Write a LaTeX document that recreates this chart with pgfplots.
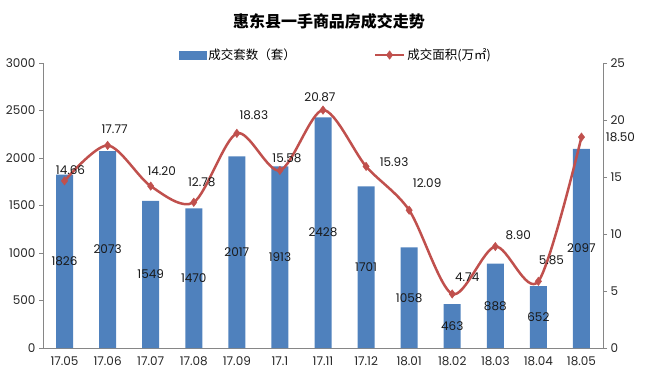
\documentclass[border=0pt]{standalone}
\usepackage{pgfplots}
\pgfplotsset{compat=1.18}
\usepackage{fontspec}
\setmainfont{Poppins}
\newfontfamily\cjk{Noto Sans CJK SC}
\definecolor{barblue}{RGB}{79,129,189}
\definecolor{linered}{RGB}{192,80,77}
\definecolor{axgray}{RGB}{134,134,134}
\tikzset{lbl/.style={font=\fontsize{12}{14}\selectfont, text=black!90, inner sep=0pt}}
\pgfplotsset{
  mylinelegend/.style={legend image code/.code={\draw[mark repeat=2,mark phase=2,##1] plot coordinates {(0pt,0pt) (14.5pt,0pt) (29pt,0pt)};}},
  mybarlegend/.style={legend image code/.code={\fill[barblue] (0pt,-4.3pt) rectangle (27pt,4.3pt);}},
}
\begin{document}
\begin{tikzpicture}
\path[use as bounding box] (0,0) rectangle (649pt,381pt);
\node[font=\cjk\bfseries\fontsize{16}{19}\selectfont] at (329pt,360pt) {惠东县一手商品房成交走势};
\begin{axis}[
  at={(43pt,33pt)}, anchor=south west, scale only axis,
  width=560pt, height=285pt,
  xmin=-0.5, xmax=12.5, ymin=0, ymax=3000,
  clip=false,
  ytick={0,500,...,3000},
  xtick={0,...,12},
  xticklabels={17.05,17.06,17.07,17.08,17.09,17.1,17.11,17.12,18.01,18.02,18.03,18.04,18.05},
  axis x line*=bottom, axis y line*=left,
  axis line style={-, draw=axgray, line width=0.8pt},
  xtick style={draw=none}, ytick style={draw=axgray, line width=0.8pt},
  tick align=outside, major tick length=4pt,
  ticklabel style={font=\fontsize{12}{14}\selectfont, text=black!85},
  /pgf/number format/assume math mode=true,
  scaled y ticks=false, yticklabel style={/pgf/number format/1000 sep={}},
  xticklabel style={yshift=-1pt},
  ybar, bar width=17pt,
]
\addplot[fill=barblue, draw=none] coordinates {
(0,1826) (1,2073) (2,1549) (3,1470) (4,2017) (5,1913) (6,2428)
(7,1701) (8,1058) (9,463) (10,888) (11,652) (12,2097)};
\node[lbl] at (axis cs:0,913) {1826};
\node[lbl] at (axis cs:1,1036.5) {2073};
\node[lbl] at (axis cs:2,774.5) {1549};
\node[lbl] at (axis cs:3,735) {1470};
\node[lbl] at (axis cs:4,1008.5) {2017};
\node[lbl] at (axis cs:5,956.5) {1913};
\node[lbl] at (axis cs:6,1214) {2428};
\node[lbl] at (axis cs:7,850.5) {1701};
\node[lbl] at (axis cs:8,529) {1058};
\node[lbl] at (axis cs:9,231.5) {463};
\node[lbl] at (axis cs:10,444) {888};
\node[lbl] at (axis cs:11,326) {652};
\node[lbl] at (axis cs:12,1048.5) {2097};
\end{axis}
\begin{axis}[
  at={(43pt,33pt)}, anchor=south west, scale only axis,
  width=560pt, height=285pt,
  xmin=-0.5, xmax=12.5, ymin=0, ymax=25,
  clip=false,
  ytick={0,5,...,25},
  axis x line=none, axis y line*=right,
  axis line style={-, draw=axgray, line width=0.8pt},
  ytick style={draw=axgray, line width=0.8pt},
  tick align=outside, major tick length=4pt,
  ticklabel style={font=\fontsize{12}{14}\selectfont, text=black!85},
  /pgf/number format/assume math mode=true,
  legend columns=2,
  legend style={at={(axis description cs:0.523,1.028)}, anchor=center, draw=none, fill=none,
    font=\cjk\fontsize{12.5}{15}\selectfont,
    /tikz/every even column/.append style={column sep=76pt}},
]
\addlegendimage{mybarlegend}
\addlegendentry{成交套数（套）}
\addplot[linered, line width=2.5pt, smooth, tension=0.5, mark=diamond*, mark size=4.2pt,
  mark options={fill=linered, draw=linered, line width=0.5pt}, mylinelegend]
coordinates {
(0,14.66) (1,17.77) (2,14.20) (3,12.78) (4,18.83) (5,15.58) (6,20.87)
(7,15.93) (8,12.09) (9,4.74) (10,8.90) (11,5.85) (12,18.50)};
\addlegendentry{成交面积(万㎡)}
\node[lbl,xshift=6pt,yshift=11pt] at (axis cs:0,14.66) {14.66};
\node[lbl,xshift=7pt,yshift=16pt] at (axis cs:1,17.77) {17.77};
\node[lbl,xshift=11pt,yshift=15pt] at (axis cs:2,14.20) {14.20};
\node[lbl,xshift=8pt,yshift=20pt] at (axis cs:3,12.78) {12.78};
\node[lbl,xshift=17pt,yshift=18pt] at (axis cs:4,18.83) {18.83};
\node[lbl,xshift=7pt,yshift=12pt] at (axis cs:5,15.58) {15.58};
\node[lbl,xshift=-3pt,yshift=13pt] at (axis cs:6,20.87) {20.87};
\node[lbl,xshift=28pt,yshift=4pt] at (axis cs:7,15.93) {15.93};
\node[lbl,xshift=18pt,yshift=27pt] at (axis cs:8,12.09) {12.09};
\node[lbl,xshift=15pt,yshift=17pt] at (axis cs:9,4.74) {4.74};
\node[lbl,xshift=23pt,yshift=11pt] at (axis cs:10,8.90) {8.90};
\node[lbl,xshift=13pt,yshift=21pt] at (axis cs:11,5.85) {5.85};
\node[lbl,xshift=39pt,yshift=0pt] at (axis cs:12,18.50) {18.50};
\end{axis}
\end{tikzpicture}
\end{document}
